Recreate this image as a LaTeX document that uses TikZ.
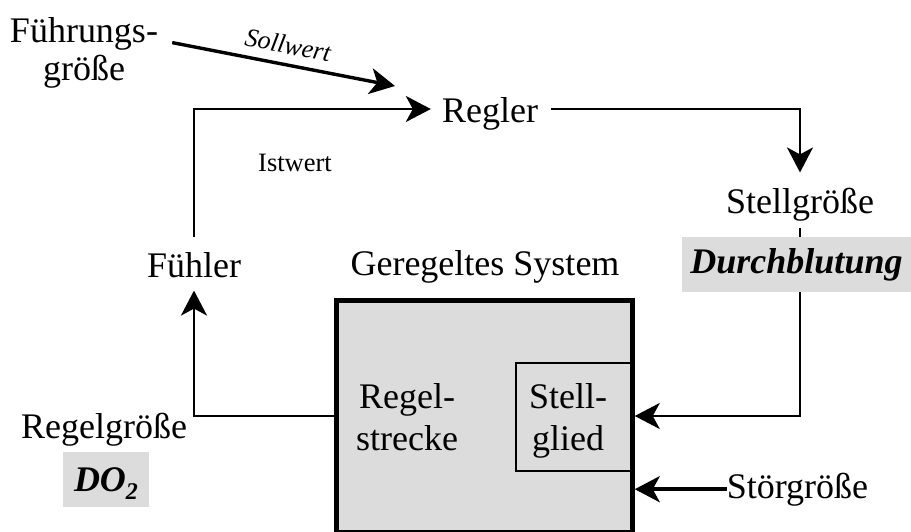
\documentclass[tikz,border=0pt]{standalone}
\usepackage{fontspec}
\setmainfont{Liberation Serif}
\usetikzlibrary{arrows.meta,calc}
\definecolor{boxgray}{RGB}{220,220,220}
\begin{document}
\begin{tikzpicture}[x=1pt,y=-1pt,
  txt/.style={inner sep=0pt, font=\fontsize{36}{42}\selectfont},
  ln/.style={line width=2.6pt},
  arr/.style={ln, -{Stealth[length=25pt,width=26pt,inset=7pt]}},
  graybox/.style={fill=boxgray, inner sep=0pt, font=\fontsize{36}{36}\selectfont\bfseries\itshape}
]
\useasboundingbox (0,0) rectangle (911,532);

% Fuehrungsgroesse and Sollwert
\node[txt, align=center, font=\fontsize{36}{38}\selectfont] (fg) at (84,52.6) {Führungs-\\größe};
\coordinate (swtip) at (395,86);
\draw[arr, line width=3.4pt] ($(fg.east)+(14,-10)$) -- (swtip);
\node[inner sep=0pt, font=\fontsize{26}{26}\selectfont\itshape, rotate=-10.9] (sw) at (288,45) {Sollwert};

% Regler
\node[txt, anchor=base] (reg) at (490,123) {Regler};
\coordinate (c1) at (194,109);
\coordinate (c4) at (800,109);

% Fuehler
\node[txt, anchor=base] (fue) at (194,277) {Fühler};
\draw[arr, shorten <=15pt, shorten >=11pt] (fue.north) -- (c1) -- (c1 -| reg.west);
\node[inner sep=0pt, anchor=base, font=\fontsize{26.5}{26.5}\selectfont] (iw) at (295,172) {Istwert};

% Stellgroesse
\node[txt, anchor=base] (stell) at (800,214) {Stellgröße};
\draw[arr, shorten <=13pt, shorten >=16pt] (reg.east |- c4) -- (c4) -- (stell.north);
\node[graybox, minimum width=229pt, minimum height=55pt] (db) at (796.5,264.5) {Durchblutung};
\draw[ln, shorten <=6pt] (stell.south) -- (stell.south |- db.north);

% Geregeltes System
\node[txt, anchor=base] (gs) at (485,275) {Geregeltes System};
\node[draw, line width=4.5pt, fill=boxgray, minimum width=296pt, minimum height=232pt, inner sep=0pt] (sys) at (484.5,416.5) {};
\node[draw, line width=2pt, minimum width=116.5pt, minimum height=108pt, inner sep=0pt] (sg) at (574.25,417) {};
\node[txt, align=center] (sgt) at (568,420.6) {Stell-\\glied};
\node[txt, align=center] (rs) at (407,416.9) {Regel-\\strecke};

% feedback into Stellglied
\coordinate (c2) at (800,416);
\draw[arr] (c2 |- db.south) -- (c2) -- (c2 -| sys.east);

% Stoergroesse
\node[txt, anchor=base] (st) at (797.5,498) {Störgröße};
\draw[arr, line width=3.6pt] (st.west) -- (st.west -| sys.east);

% Regelgroesse
\coordinate (c3) at (194,416);
\draw[arr, shorten >=13pt] (sys.west |- c3) -- (c3) -- (fue.south);
\node[txt, anchor=base] (rg) at (104,438) {Regelgröße};
\node[graybox, minimum width=86pt, minimum height=55pt, text depth=0pt] (do) at (106,479.5) {DO\raisebox{-8pt}{\fontsize{24}{24}\selectfont 2}};
\end{tikzpicture}
\end{document}
